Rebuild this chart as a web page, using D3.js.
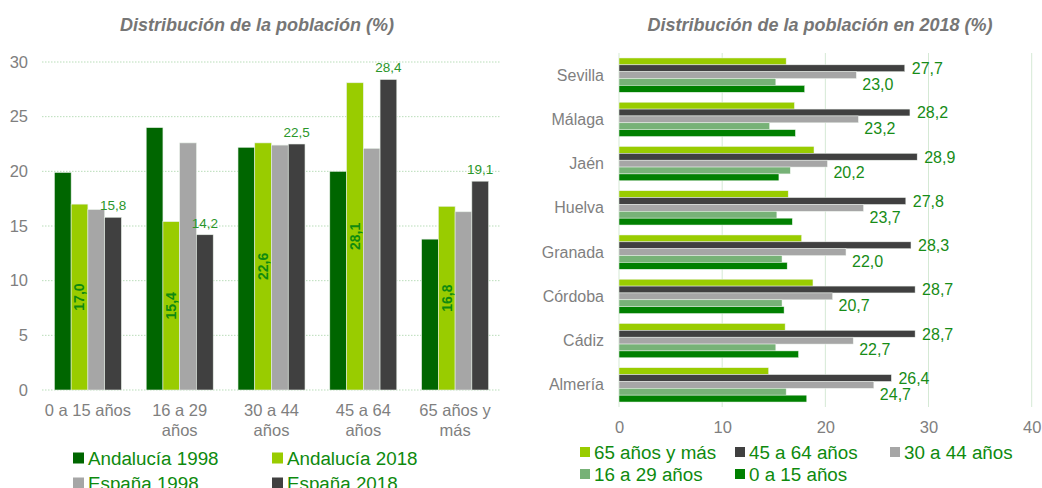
<!DOCTYPE html>
<html>
<head>
<meta charset="utf-8">
<script src="https://cdn.jsdelivr.net/npm/d3@7"></script>
<style>
  body { margin: 0; background: #fff; }
  svg { display: block; font-family: "Liberation Sans", Arial, sans-serif; }
</style>
</head>
<body>
<div id="chart"></div>
<script>
// Left chart: age groups, Andalucía vs España
const ageGroups = ['0 a 15 años', '16 a 29 años', '30 a 44 años', '45 a 64 años', '65 años y más'];
const leftSeries = ['Andalucía 1998', 'Andalucía 2018', 'España 1998', 'España 2018'];
const andalucia1998 = [19.9, 24.0, 22.2, 20.0, 13.8];
const andalucia2018 = [17.0, 15.4, 22.6, 28.1, 16.8];
const espana1998 = [16.5, 22.6, 22.4, 22.1, 16.3];
const espana2018 = [15.8, 14.2, 22.5, 28.4, 19.1];
const leftTicks = [0, 5, 10, 15, 20, 25, 30];

// Right chart: provinces 2018
const provinces = ['Sevilla', 'Málaga', 'Jaén', 'Huelva', 'Granada', 'Córdoba', 'Cádiz', 'Almería'];
const rightSeries = ['65 años y más', '45 a 64 años', '30 a 44 años', '16 a 29 años', '0 a 15 años'];
const age65plus = [16.2, 17.0, 18.9, 16.4, 17.7, 18.8, 16.1, 14.5];
const age45to64 = [27.7, 28.2, 28.9, 27.8, 28.3, 28.7, 28.7, 26.4];
const age30to44 = [23.0, 23.2, 20.2, 23.7, 22.0, 20.7, 22.7, 24.7];
const age16to29 = [15.2, 14.6, 16.6, 15.3, 15.8, 15.8, 15.2, 16.2];
const age0to15 = [18.0, 17.1, 15.5, 16.8, 16.3, 16.0, 17.4, 18.2];
const rightTicks = [0, 10, 20, 30, 40];

const width = 1042, height = 488;
const axisGray = '#7f7f7f';
const labelGreen = '#178c17';
const fmt = v => d3.format('.1f')(v).replace('.', ',');

const svg = d3.select('#chart').append('svg')
  .attr('width', width)
  .attr('height', height);

function wrap(text, maxWidth) {
  text.each(function() {
    const t = d3.select(this);
    const words = t.text().split(' ');
    const x = t.attr('x');
    t.text(null);
    let line = [];
    let tspan = t.append('tspan').attr('x', x).attr('dy', 0);
    words.forEach(w => {
      line.push(w);
      tspan.text(line.join(' '));
      if (tspan.node().getComputedTextLength() > maxWidth && line.length > 1) {
        line.pop();
        tspan.text(line.join(' '));
        line = [w];
        tspan = t.append('tspan').attr('x', x).attr('dy', '1.2em').text(w);
      }
    });
  });
}

function leftChart() {
  const left = 42, right = 501, top = 62, bottom = 390;
  const colors = ['#006600', '#99cc00', '#a6a6a6', '#404040'];
  const values = [andalucia1998, andalucia2018, espana1998, espana2018];

  svg.append('text')
    .attr('x', 257).attr('y', 31)
    .attr('text-anchor', 'middle')
    .attr('font-size', 18).attr('font-weight', 'bold').attr('font-style', 'italic')
    .attr('fill', '#767676')
    .text('Distribución de la población (%)');

  const x0 = d3.scaleBand().domain(ageGroups).range([left, right])
    .paddingInner(0.27).paddingOuter(0.135);
  const x1 = d3.scaleBand().domain(leftSeries).range([0, x0.bandwidth()]);
  const y = d3.scaleLinear().domain([0, 30]).range([bottom, top]);

  // grid
  svg.append('g').selectAll('line')
    .data(leftTicks).enter().append('line')
    .attr('x1', left).attr('x2', right)
    .attr('y1', d => y(d)).attr('y2', d => y(d))
    .attr('stroke', '#b9ddb9').attr('stroke-dasharray', '1.5,1.5');

  const yAxis = d3.axisLeft(y).tickValues(leftTicks).tickSize(0).tickPadding(14);
  const ya = svg.append('g').attr('transform', `translate(${left},0)`).call(yAxis);
  ya.select('.domain').remove();
  ya.selectAll('text').attr('font-size', 16.5).attr('fill', axisGray).attr('font-family', null);

  const groups = svg.append('g').selectAll('g')
    .data(ageGroups).enter().append('g')
    .attr('transform', d => `translate(${x0(d)},0)`);

  groups.selectAll('rect')
    .data((d, i) => leftSeries.map((s, j) => ({ s, j, v: values[j][i] })))
    .enter().append('rect')
    .attr('x', d => x1(d.s))
    .attr('y', d => y(d.v))
    .attr('width', x1.bandwidth())
    .attr('height', d => y(0) - y(d.v))
    .attr('fill', d => colors[d.j])
    .attr('stroke', '#e6efe6').attr('stroke-width', 0.6);

  // rotated labels inside Andalucía 2018
  groups.append('text')
    .datum((d, i) => andalucia2018[i])
    .attr('transform', d => `translate(${x1('Andalucía 2018') + x1.bandwidth() / 2},${(y(d) + y(0)) / 2}) rotate(-90)`)
    .attr('text-anchor', 'middle').attr('dy', '0.35em')
    .attr('font-size', 14).attr('font-weight', 'bold')
    .attr('fill', '#0f8a0f')
    .text(d => fmt(d));

  // labels above España 2018
  groups.append('text')
    .datum((d, i) => espana2018[i])
    .attr('x', x1('España 2018') + x1.bandwidth() / 2)
    .attr('y', d => y(d) - 7)
    .attr('text-anchor', 'middle')
    .attr('font-size', 13.5)
    .attr('fill', '#2a962a')
    .text(d => fmt(d));

  // category labels
  svg.append('g').selectAll('text')
    .data(ageGroups).enter().append('text')
    .attr('x', d => x0(d) + x0.bandwidth() / 2)
    .attr('y', 416)
    .attr('text-anchor', 'middle')
    .attr('font-size', 16.5).attr('fill', axisGray)
    .text(d => d)
    .call(wrap, x0.step() - 2);

  // legend
  const legend = svg.append('g').selectAll('g')
    .data(leftSeries).enter().append('g')
    .attr('transform', (d, i) => `translate(${73 + (i % 2) * 199},${458 + Math.floor(i / 2) * 25})`);
  legend.append('rect')
    .attr('x', 0).attr('y', -5.5).attr('width', 11).attr('height', 11)
    .attr('fill', (d, i) => colors[i]);
  legend.append('text')
    .attr('x', 15).attr('dy', '0.36em')
    .attr('font-size', 18.8).attr('fill', '#0e8a0e')
    .text(d => d);
}

function rightChart() {
  const left = 619, right = 1031.7, top = 53, bottom = 407;
  const colors = ['#99cc00', '#404040', '#a6a6a6', '#77b277', '#008000'];
  const values = [age65plus, age45to64, age30to44, age16to29, age0to15];

  svg.append('text')
    .attr('x', 820).attr('y', 31)
    .attr('text-anchor', 'middle')
    .attr('font-size', 18).attr('font-weight', 'bold').attr('font-style', 'italic')
    .attr('fill', '#767676')
    .text('Distribución de la población en 2018 (%)');

  const x = d3.scaleLinear().domain([0, 40]).range([left, right]);
  const y0 = d3.scaleBand().domain(provinces).range([top, bottom])
    .paddingInner(0.225).paddingOuter(0.1125);
  const y1 = d3.scaleBand().domain(rightSeries).range([0, y0.bandwidth()]);

  svg.append('g').selectAll('line')
    .data(rightTicks).enter().append('line')
    .attr('x1', d => x(d)).attr('x2', d => x(d))
    .attr('y1', top).attr('y2', bottom)
    .attr('stroke', '#d5e9d5').attr('stroke-width', 1);

  const xAxis = d3.axisBottom(x).tickValues(rightTicks).tickSize(0).tickPadding(14);
  const xa = svg.append('g').attr('transform', `translate(0,${bottom})`).call(xAxis);
  xa.select('.domain').remove();
  xa.selectAll('text').attr('font-size', 16.5).attr('fill', axisGray).attr('font-family', null);

  svg.append('g').selectAll('text')
    .data(provinces).enter().append('text')
    .attr('x', 604)
    .attr('y', d => y0(d) + y0.bandwidth() / 2)
    .attr('dy', '0.35em')
    .attr('text-anchor', 'end')
    .attr('font-size', 16).attr('fill', axisGray)
    .text(d => d);

  const groups = svg.append('g').selectAll('g')
    .data(provinces).enter().append('g')
    .attr('transform', d => `translate(0,${y0(d)})`);

  groups.selectAll('rect')
    .data((d, i) => rightSeries.map((s, j) => ({ s, j, v: values[j][i] })))
    .enter().append('rect')
    .attr('x', x(0))
    .attr('y', d => y1(d.s))
    .attr('width', d => x(d.v) - x(0))
    .attr('height', y1.bandwidth())
    .attr('fill', d => colors[d.j])
    .attr('stroke', '#eef3ee').attr('stroke-width', 0.5);

  groups.append('text')
    .datum((d, i) => age45to64[i])
    .attr('x', d => x(d) + 7)
    .attr('y', y1('45 a 64 años') + y1.bandwidth() / 2)
    .attr('dy', '0.36em')
    .attr('font-size', 16).attr('fill', labelGreen)
    .text(d => fmt(d));

  groups.append('text')
    .datum((d, i) => age30to44[i])
    .attr('x', d => x(d) + 6)
    .attr('y', y1('30 a 44 años') + y1.bandwidth() / 2 + 9)
    .attr('dy', '0.36em')
    .attr('font-size', 16).attr('fill', labelGreen)
    .text(d => fmt(d));

  const legend = svg.append('g').selectAll('g')
    .data(rightSeries).enter().append('g')
    .attr('transform', (d, i) => `translate(${580 + (i % 3) * 155},${452 + Math.floor(i / 3) * 22})`);
  legend.append('rect')
    .attr('x', 0).attr('y', -5).attr('width', 10).attr('height', 10)
    .attr('fill', (d, i) => colors[i]);
  legend.append('text')
    .attr('x', 14).attr('dy', '0.36em')
    .attr('font-size', 18.8).attr('fill', '#0e8a0e')
    .text(d => d);
}

leftChart();
rightChart();
</script>
</body>
</html>
